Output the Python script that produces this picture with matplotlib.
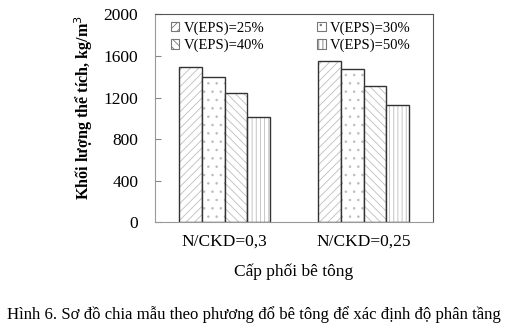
import numpy as np
import matplotlib.pyplot as plt
from matplotlib.patches import Patch

plt.rcParams['font.family'] = ['Liberation Serif', 'DejaVu Serif']
plt.rcParams['hatch.linewidth'] = 0.6

groups = ['N/CKD=0,3', 'N/CKD=0,25']
series = ['V(EPS)=25%', 'V(EPS)=30%', 'V(EPS)=40%', 'V(EPS)=50%']
values = [
    [1495, 1555],   # 25%
    [1395, 1475],   # 30%
    [1240, 1310],   # 40%
    [1015, 1130],   # 50%
]
hatches = ['////', '..', '\\\\\\\\', '||||']
yticks = [0, 400, 800, 1200, 1600, 2000]

fig = plt.figure(figsize=(5.14, 3.31), dpi=100)
ax = fig.add_axes([0.3016, 0.3278, 0.5409, 0.629])

x = np.arange(len(groups))
w = 0.162
for i, vals in enumerate(values):
    pos = x + (i - 1.5) * w
    ax.bar(pos, vals, w, color='white', edgecolor='#bdbdbd', hatch=hatches[i], lw=0)
    ax.bar(pos, vals, w, fill=False, edgecolor='#333333', lw=1.0)

ax.set_xlim(-0.5, 1.5)
ax.set_ylim(0, 2000)
ax.set_yticks(yticks)
ax.set_xticks(x)
ax.set_xticklabels(groups, fontsize=12.5)
ax.tick_params(axis='y', direction='in', length=4, color='#888888', labelsize=12.5, pad=12)
ax.tick_params(axis='x', length=0, pad=8)
for s in ['left', 'bottom']:
    ax.spines[s].set_color('#999999')
for s in ['top', 'right']:
    ax.spines[s].set_color('#555555')

ax.set_ylabel('Khối lượng thể tích, kg/m$^3$', fontsize=11.6, fontweight='bold')
ax.yaxis.set_label_coords(-0.215, 0.555)
ax.set_xlabel('Cấp phối bê tông', fontsize=12.5, labelpad=10)

# legend fills column-wise, so reorder to get 25/30 on the first row
order = [0, 2, 1, 3]
handles = [Patch(facecolor='white', edgecolor='#777777', hatch=hatches[i], lw=0.8) for i in order]
labels = [series[i] for i in order]
ax.legend(handles, labels, ncol=2, loc='upper left', bbox_to_anchor=(0.03, 1.0),
          frameon=False, fontsize=10.5, handlelength=0.6, handleheight=0.6,
          handletextpad=0.3, columnspacing=3.6, labelspacing=0.25, borderaxespad=0.1)

fig.text(0.495, 0.05, 'Hình 6. Sơ đồ chia mẫu theo phương đổ bê tông để xác định độ phân tầng',
         ha='center', va='center', fontsize=12.1)

fig.savefig('out.png', dpi=100)
